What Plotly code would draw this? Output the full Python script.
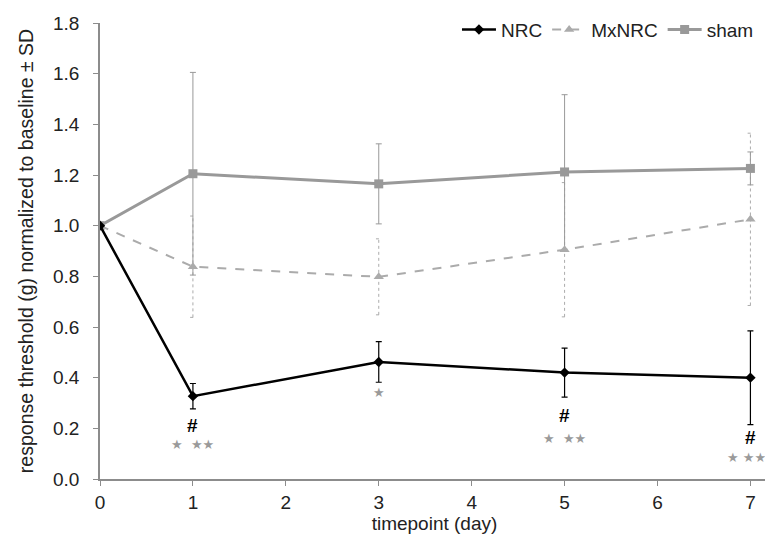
import plotly.graph_objects as go

days = [0, 1, 3, 5, 7]
nrc = [1.0, 0.327, 0.462, 0.42, 0.40]
nrc_sd = [0.0, 0.05, 0.08, 0.097, 0.185]
mx = [1.0, 0.838, 0.798, 0.905, 1.025]
mx_sd = [0.0, 0.2, 0.15, 0.265, 0.34]
sham = [1.0, 1.205, 1.165, 1.212, 1.226]
sham_sd = [0.0, 0.4, 0.158, 0.305, 0.065]

hash_days = [1, 5, 7]
hash_y = [0.21, 0.25, 0.165]
star_days = [1, 3, 5, 7]
star_y = [0.135, 0.34, 0.16, 0.085]
star_text = ["★  ★★", "★", "★  ★★", "★ ★★"]

BLACK = "#000000"
MXC = "#ababab"
SHC = "#999999"

fig = go.Figure()

# MxNRC dotted error bars built from arrays
ex, ey = [], []
cap = 0.03
for d, v, s in zip(days, mx, mx_sd):
    if s > 0:
        ex += [d, d, None, d - cap, d + cap, None, d - cap, d + cap, None]
        ey += [v - s, v + s, None, v - s, v - s, None, v + s, v + s, None]
fig.add_trace(go.Scatter(x=ex, y=ey, mode="lines", line=dict(color=MXC, width=1, dash="dot"),
                         showlegend=False, hoverinfo="skip"))

fig.add_trace(go.Scatter(
    x=days, y=sham, name="sham", mode="lines+markers",
    line=dict(color=SHC, width=3),
    marker=dict(symbol="square", size=9, color=SHC),
    error_y=dict(type="data", array=sham_sd, color=SHC, thickness=1, width=3),
))
fig.add_trace(go.Scatter(
    x=days, y=mx, name="MxNRC", mode="lines+markers",
    line=dict(color=MXC, width=2, dash="dash"),
    marker=dict(symbol="triangle-up", size=9, color=MXC),
))
fig.add_trace(go.Scatter(
    x=days, y=nrc, name="NRC", mode="lines+markers",
    line=dict(color=BLACK, width=2.5),
    marker=dict(symbol="diamond", size=8, color=BLACK),
    error_y=dict(type="data", array=nrc_sd, color=BLACK, thickness=1.2, width=3),
))

for d, y in zip(hash_days, hash_y):
    fig.add_annotation(x=d, y=y, text="<b>#</b>", showarrow=False,
                       font=dict(size=19, color=BLACK, family="Liberation Sans, Arial"))
for d, y, t in zip(star_days, star_y, star_text):
    fig.add_annotation(x=d, y=y, text=t, showarrow=False, xshift=(-4 if d == 7 else 0),
                       font=dict(size=13, color="#9a9a9a", family="DejaVu Sans"))

axis_common = dict(showgrid=False, zeroline=False, showline=True, linecolor="#8c8c8c", linewidth=1.5,
                   ticks="outside", tickcolor="#8c8c8c", ticklen=5, automargin=False,
                   tickfont=dict(size=19, color="#222222"))

# the page body adds an 8px offset, so the figure is sized to fit the window
fig.update_layout(
    width=765, height=539,
    margin=dict(l=92, r=4, t=14, b=68),
    paper_bgcolor="white", plot_bgcolor="white",
    font=dict(family="Liberation Sans, Arial", size=19, color="#222222"),
    xaxis=dict(range=[0, 7.2], tickvals=list(range(0, 8)),
               title=dict(text="timepoint (day)", standoff=2, font=dict(size=19)),
               **axis_common),
    yaxis=dict(range=[0, 1.8], dtick=0.2, tickformat=".1f", ticklabelstandoff=10,
               title=dict(text="response threshold (g) normalized to baseline ± SD", standoff=14,
                          font=dict(size=19.5)),
               **axis_common),
    legend=dict(orientation="h", x=0.985, xanchor="right", y=1.025, yanchor="top",
                traceorder="reversed", font=dict(size=19), bgcolor="rgba(0,0,0,0)",
                itemwidth=34),
)

fig.write_html("out.html")
